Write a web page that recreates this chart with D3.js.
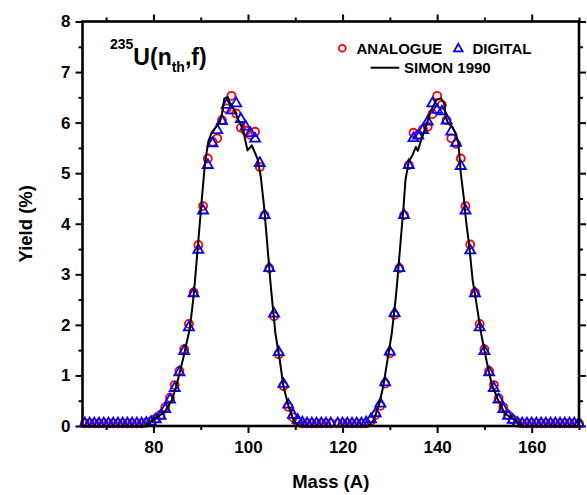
<!DOCTYPE html>
<html>
<head>
<meta charset="utf-8">
<script src="https://cdn.jsdelivr.net/npm/d3@7"></script>
<style>
  body { margin: 0; background: #fff; }
  text { font-family: "Liberation Sans", Arial, sans-serif; font-weight: bold; fill: #000; }
</style>
</head>
<body>
<svg id="chart" width="587" height="495"></svg>
<script>

// light fragment side
var lightMass = [65.5, 66.5, 67.5, 68.5, 69.5, 70.5, 71.5, 72.5, 73.5, 74.5, 75.5, 76.5, 77.5,
  78.5, 79.5, 80.5, 81.5, 82.5, 83.5, 84.5, 85.5, 86.5, 87.5, 88.5, 89.5, 90.5, 91.5, 92.5, 93.5,
  94.5, 95.5, 96.5, 97.5, 98.5, 99.5, 100.5, 101.5, 102.5, 103.5, 104.5, 105.5, 106.5, 107.5,
  108.5, 109.5, 110.5, 111.5, 112.5, 113.5, 114.5, 115.5, 116.5, 117.5];
var lightAnalogue = [0.05, 0.05, 0.05, 0.05, 0.05, 0.05, 0.05, 0.05, 0.05, 0.05, 0.05, 0.05, 0.05,
  0.065, 0.09, 0.15, 0.22, 0.37, 0.56, 0.81, 1.09, 1.52, 2.02, 2.64, 3.58, 4.35, 5.29, 5.62, 5.69,
  6.05, 6.28, 6.53, 6.18, 5.90, 5.84, 5.76, 5.82, 5.12, 4.17, 3.12, 2.17, 1.42, 0.79,
  0.38, 0.17, 0.08, 0.05, 0.05, 0.05, 0.05, 0.05, 0.05, 0.05];
var lightDigital = [0.05, 0.05, 0.05, 0.05, 0.05, 0.05, 0.05, 0.05, 0.05, 0.05, 0.05, 0.05, 0.05,
  0.06, 0.08, 0.13, 0.20, 0.33, 0.52, 0.75, 1.06, 1.48, 1.95, 2.62, 3.48, 4.26, 5.16, 5.59, 5.85,
  6.03, 6.35, 6.24, 6.38, 6.07, 5.92, 5.79, 5.68, 5.20, 4.17, 3.12, 2.22, 1.46, 0.83,
  0.42, 0.22, 0.12, 0.07, 0.05, 0.05, 0.05, 0.05, 0.05, 0.05];

// heavy fragment side
var heavyMass = [119, 120, 121, 122, 123, 124, 125, 126, 127, 128, 129, 130, 131, 132, 133, 134,
  135, 136, 137, 138, 139, 140, 141, 142, 143, 144, 145, 146, 147, 148, 149, 150, 151, 152, 153,
  154, 155, 156, 157, 158, 159, 160, 161, 162, 163, 164, 165, 166, 167, 168, 169, 170];
var heavyAnalogue = [0.05, 0.05, 0.05, 0.05, 0.05, 0.05, 0.05, 0.10, 0.22, 0.40, 0.84, 1.44, 2.20,
  3.12, 4.17, 5.16, 5.80, 5.76, 5.87, 5.92, 6.17, 6.53, 6.35, 6.05, 5.69, 5.58, 5.29, 4.35, 3.59,
  2.64, 2.02, 1.52, 1.09, 0.81, 0.55, 0.37, 0.22, 0.13, 0.065, 0.05, 0.05, 0.05, 0.05, 0.05, 0.05,
  0.05, 0.05, 0.05, 0.05, 0.05, 0.05, 0.05];
var heavyDigital = [0.05, 0.05, 0.05, 0.05, 0.05, 0.05, 0.07, 0.13, 0.25, 0.44, 0.86, 1.47, 2.23,
  3.12, 4.17, 5.16, 5.69, 5.74, 5.85, 6.02, 6.38, 6.25, 6.22, 6.04, 5.82, 5.60, 5.14, 4.26, 3.47,
  2.62, 1.95, 1.48, 1.06, 0.75, 0.52, 0.33, 0.20, 0.12, 0.06, 0.05, 0.05, 0.05, 0.05, 0.05, 0.05,
  0.05, 0.05, 0.05, 0.05, 0.05, 0.05, 0.05];

// SIMON 1990 curve
var simonMass = [78.2, 80.3, 82.4, 83.9, 84.9, 86.3, 87.7, 88.4, 88.8, 90.1, 90.9, 91.6, 92.3, 93.3,
  94.0, 94.5, 95.0, 95.7, 96.2, 97.1, 98.0, 99.0, 99.4, 99.9, 100.8, 102.0, 102.7, 103.4, 104.0,
  104.7, 105.1, 105.8, 106.7, 107.5, 108.6, 109.6, 110.7,
  125.6, 126.6, 127.6, 128.6, 129.5, 130.4, 131.2, 131.6, 132.3, 132.9, 133.3, 134.0, 134.8, 135.5,
  135.9, 136.5, 137.6, 138.6, 139.9, 140.8, 141.5, 141.8, 142.3, 143.2, 143.9, 144.5, 145.0, 145.6,
  146.1, 146.8, 147.5, 148.2, 149.3, 150.4, 151.5, 152.9, 154.3, 156.4, 158.1];
var simonYield = [0, 0.15, 0.28, 0.51, 0.81, 1.34, 1.93, 2.49, 2.89, 4.34, 5.20, 5.62, 5.80, 5.92,
  5.99, 6.18, 6.48, 6.51, 6.38, 6.25, 6.05, 5.85, 5.66, 5.45, 5.55, 5.29, 4.93, 4.34, 3.68,
  2.89, 2.49, 1.83, 1.31, 0.78, 0.38, 0.12, 0,
  0, 0.12, 0.38, 0.78, 1.31, 1.83, 2.49, 2.89, 3.68, 4.34, 4.87, 5.23, 5.36, 5.52,
  5.44, 5.62, 5.92, 6.22, 6.46, 6.48, 6.38, 6.12, 5.99, 5.92, 5.79, 5.59, 5.00, 4.54,
  4.07, 3.55, 2.89, 2.49, 1.83, 1.31, 0.84, 0.51, 0.25, 0.12, 0];

var xMajor = [80, 100, 120, 140, 160];
var xMinor = [70, 90, 110, 130, 150, 170];
var yMajor = [0, 1, 2, 3, 4, 5, 6, 7, 8];
var yMinor = [0.5, 1.5, 2.5, 3.5, 4.5, 5.5, 6.5, 7.5];

var svg = d3.select("#chart");
var plotLeft = 82.5, plotRight = 579, plotTop = 21.5, plotBottom = 426;

var x = d3.scaleLinear().domain([65, 170]).range([plotLeft, plotRight]);
var y = d3.scaleLinear().domain([0, 8]).range([plotBottom, plotTop]);

function zip(ms, vs) {
  return ms.map(function(m, i) { return { m: m, v: vs[i] }; });
}
var analogue = zip(lightMass, lightAnalogue).concat(zip(heavyMass, heavyAnalogue));
var digital = zip(lightMass, lightDigital).concat(zip(heavyMass, heavyDigital));
var simon = zip(simonMass, simonYield);

// axes
function styleAxis(g) {
  g.select(".domain").remove();
  g.selectAll(".tick line").attr("stroke", "#000").attr("stroke-width", 2);
  g.selectAll(".tick text").style("font-size", "17px").attr("fill", "#000");
}

svg.append("g").attr("transform", "translate(0," + plotBottom + ")")
  .call(d3.axisBottom(x).tickValues(xMajor).tickSize(7).tickPadding(8)).call(styleAxis);
svg.append("g").attr("transform", "translate(0," + plotBottom + ")")
  .call(d3.axisBottom(x).tickValues(xMinor).tickSize(4).tickFormat("")).call(styleAxis);
svg.append("g").attr("transform", "translate(0," + plotTop + ")")
  .call(d3.axisTop(x).tickValues(xMajor).tickSize(7).tickFormat("")).call(styleAxis);
svg.append("g").attr("transform", "translate(0," + plotTop + ")")
  .call(d3.axisTop(x).tickValues(xMinor).tickSize(4).tickFormat("")).call(styleAxis);

svg.append("g").attr("transform", "translate(" + plotLeft + ",0)")
  .call(d3.axisLeft(y).tickValues(yMajor).tickSize(7).tickPadding(5)).call(styleAxis);
svg.append("g").attr("transform", "translate(" + plotLeft + ",0)")
  .call(d3.axisLeft(y).tickValues(yMinor).tickSize(4).tickFormat("")).call(styleAxis);
svg.append("g").attr("transform", "translate(" + plotRight + ",0)")
  .call(d3.axisRight(y).tickValues(yMajor).tickSize(7).tickFormat("")).call(styleAxis);
svg.append("g").attr("transform", "translate(" + plotRight + ",0)")
  .call(d3.axisRight(y).tickValues(yMinor).tickSize(4).tickFormat("")).call(styleAxis);

// markers
svg.append("g").selectAll("circle")
  .data(analogue).enter().append("circle")
  .attr("cx", function(d) { return x(d.m); })
  .attr("cy", function(d) { return y(d.v); })
  .attr("r", 4)
  .attr("fill", "none")
  .attr("stroke", "#ff0000")
  .attr("stroke-width", 1.8);

var tri = d3.symbol().type(d3.symbolTriangle).size(44);
svg.append("g").selectAll("path")
  .data(digital).enter().append("path")
  .attr("transform", function(d) { return "translate(" + x(d.m) + "," + y(d.v) + ")"; })
  .attr("d", tri)
  .attr("fill", "none")
  .attr("stroke", "#0000ff")
  .attr("stroke-width", 1.8);

svg.append("path")
  .datum(simon)
  .attr("fill", "none")
  .attr("stroke", "#000")
  .attr("stroke-width", 2)
  .attr("stroke-linejoin", "round")
  .attr("d", d3.line().x(function(d) { return x(d.m); }).y(function(d) { return y(d.v); }));

// frame
svg.append("rect")
  .attr("x", plotLeft).attr("y", plotTop)
  .attr("width", plotRight - plotLeft).attr("height", plotBottom - plotTop)
  .attr("fill", "none").attr("stroke", "#000").attr("stroke-width", 2.6);

// axis titles
svg.append("text")
  .attr("x", (plotLeft + plotRight) / 2).attr("y", 488)
  .attr("text-anchor", "middle")
  .style("font-size", "18.5px")
  .text("Mass (A)");

svg.append("text")
  .attr("transform", "translate(32," + ((plotTop + plotBottom) / 2) + ") rotate(-90)")
  .attr("text-anchor", "middle")
  .style("font-size", "18.5px")
  .text("Yield (%)");

// reaction label
var lbl = svg.append("text").attr("x", 110).attr("y", 65);
lbl.append("tspan").style("font-size", "14px").attr("dy", -16).text("235");
lbl.append("tspan").style("font-size", "23px").attr("dy", 16).text("U(n");
lbl.append("tspan").style("font-size", "14px").attr("dy", 7).text("th");
lbl.append("tspan").style("font-size", "23px").attr("dy", -7).text(",f)");

// legend
var leg = svg.append("g");
leg.append("circle").attr("cx", 342.3).attr("cy", 48.3).attr("r", 3.4)
  .attr("fill", "none").attr("stroke", "#ff0000").attr("stroke-width", 1.8);
leg.append("text").attr("x", 356.5).attr("y", 53.5).style("font-size", "15px").text("ANALOGUE");
leg.append("path").attr("transform", "translate(458.3,48.8)")
  .attr("d", d3.symbol().type(d3.symbolTriangle).size(32))
  .attr("fill", "none").attr("stroke", "#0000ff").attr("stroke-width", 1.8);
leg.append("text").attr("x", 472.5).attr("y", 53.5).style("font-size", "15px").text("DIGITAL");
leg.append("line").attr("x1", 370.7).attr("x2", 399.3).attr("y1", 67.7).attr("y2", 67.7)
  .attr("stroke", "#000").attr("stroke-width", 2);
leg.append("text").attr("x", 404).attr("y", 73).style("font-size", "15px").text("SIMON 1990");

</script>
</body>
</html>
